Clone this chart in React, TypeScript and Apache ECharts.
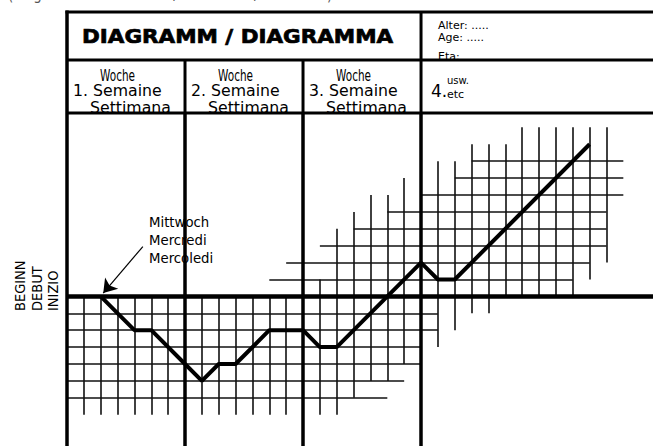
import React, { useEffect, useRef } from "react";
import * as echarts from "echarts";

const W = 653;
const H = 446;

// ---- data: weekly record, x = day since start of week 1, y = level vs. start ----
const lineDays = [2, 4, 5, 7, 8, 9, 10, 12, 14, 15, 16, 21, 22, 23, 31];
const lineValues = [0, -2, -2, -4, -5, -4, -4, -2, -2, -3, -3, 2, 1, 1, 9];

// horizontal grid rows (level, first day, last day)
const rowLevels = [-6, -5, -4, -3, -2, -1, 1, 2, 3, 4, 5, 6, 7, 8];
const rowStart = [0, 0, 0, 0, 0, 0, 12, 13, 15, 17, 19, 21, 23, 24];
const rowEnd = [19, 20, 21, 21, 22, 22, 30, 31, 32, 32, 32, 33, 33, 33];

// vertical day lines (day, lowest level, highest level)
const colDays = [1, 2, 3, 4, 5, 6, 8, 9, 10, 11, 12, 13, 15, 16, 17, 18, 19, 20, 22, 23, 24, 25, 26, 27, 28, 29, 30, 31, 32];
const colBottom = [-7, -7, -7, -7, -7, -7, -7, -7, -7, -7, -7, -7, -7, -7, -6, -5, -5, -4, -3, -2, -1, -1, 0, 0, 0, 0, 0, 1, 2];
const colTop = [0, 0, 0, 0, 0, 0, 0, 0, 0, 0, 0, 0, 1, 4, 5, 6, 6, 7, 8, 8, 9, 9, 9, 10, 10, 10, 10, 10, 10];

// week boundaries (days)
const weekDays = [0, 7, 14, 21];
const weekNumbers = ["1.", "2.", "3."];

// annotation arrow (data coords)
const arrowFrom = [4.5, 2.95];
const arrowTo = [2.15, 0.2];

// texts
const titleText = "DIAGRAMM / DIAGRAMMA";
const infoLines = ["Alter: .....", "Age: .....", "Eta:"];
const startLabels = ["BEGINN", "DEBUT", "INIZIO"];
const dayLabel = ["Mittwoch", "Mercredi", "Mercoledi"];
const captionText = "(Originalversion deutsch/französisch/italienisch)";

// ---- layout ----
const PLOT_LEFT = 67;
const PLOT_TOP = 113;
const X_MAX = 34.76;
const Y_MIN = -8.85;
const Y_MAX = 10.85;
const DAY_PX = (W - PLOT_LEFT) / X_MAX;
const FONT = '"DejaVu Sans", sans-serif';

function txt(text: string, x: number, y: number, size: number, opts: any = {}) {
  return {
    type: "text",
    x,
    y,
    scaleX: opts.scaleX ?? 1,
    rotation: opts.rotation ?? 0,
    z: opts.z ?? 20,
    style: {
      text,
      fill: opts.fill ?? "#000",
      stroke: opts.stroke ? "#000" : undefined,
      lineWidth: opts.stroke ?? 0,
      fontSize: size,
      fontFamily: FONT,
      fontWeight: opts.bold ? "bold" : "normal",
      align: opts.align ?? "left",
      textAlign: opts.align ?? "left",
      verticalAlign: "middle",
      textVerticalAlign: "middle",
    },
  };
}

function hline(x1: number, x2: number, y: number, w: number) {
  return { type: "line", z: 30, shape: { x1, y1: y, x2, y2: y }, style: { stroke: "#000", lineWidth: w } };
}
function vline(x: number, y1: number, y2: number, w: number) {
  return { type: "line", z: 30, shape: { x1: x, y1, x2: x, y2 }, style: { stroke: "#000", lineWidth: w } };
}

export default function App() {
  const ref = useRef<HTMLDivElement>(null);

  useEffect(() => {
    if (!ref.current) return;
    const chart = echarts.init(ref.current, undefined, { renderer: "svg", width: W, height: H });

    const graphics: any[] = [];
    // caption (cut off at top edge as in the scan)
    graphics.push(txt(captionText, 8, -5, 15, { fill: "#555", scaleX: 0.9 }));
    // title
    graphics.push(txt(titleText, 82, 36, 19, { bold: true, scaleX: 1.13, stroke: 0.7 }));
    // info
    const infoY = [25, 37, 56];
    infoLines.forEach((t, i) => graphics.push(txt(t, 438, infoY[i], 11)));
    // week headers
    weekNumbers.forEach((n, i) => {
      const L = PLOT_LEFT + weekDays[i] * DAY_PX;
      graphics.push(txt("Woche", L + 33, 76, 15, { scaleX: 0.7 }));
      graphics.push(txt(n + " Semaine", L + 6, 91, 15, { scaleX: 1.05 }));
      graphics.push(txt("Settimana", L + 23, 108.5, 15, { scaleX: 1.05 }));
    });
    const L4 = PLOT_LEFT + weekDays[3] * DAY_PX;
    graphics.push(txt("4.", L4 + 10, 91, 17));
    graphics.push(txt("usw.", L4 + 26, 80, 10));
    graphics.push(txt("etc", L4 + 26, 94, 11));
    // start labels (rotated)
    const startX = [20, 37, 53];
    startLabels.forEach((t, i) => graphics.push(txt(t, startX[i], 311, 14, { rotation: Math.PI / 2, scaleX: 0.93 })));
    // weekday annotation (drawn under the grid lines)
    const dayY = [222, 240, 258];
    dayLabel.forEach((t, i) => graphics.push(txt(t, 149, dayY[i], 14, { scaleX: 0.95, z: 1 })));

    // header frame
    graphics.push(hline(65.5, W, 12, 3));
    graphics.push(hline(66, W, 60, 3));
    graphics.push(hline(66, W, PLOT_TOP, 3));
    graphics.push(vline(PLOT_LEFT, 10.5, PLOT_TOP, 3.5));
    weekDays.slice(1).forEach((d) => {
      const x = PLOT_LEFT + d * DAY_PX;
      graphics.push(vline(x, d === 21 ? 12 : 60, PLOT_TOP, 3));
    });

    const thin = { color: "#111", width: 1.6, opacity: 1 };

    chart.setOption({
      animation: false,
      backgroundColor: "#fff",
      grid: { left: PLOT_LEFT, right: 0, top: PLOT_TOP, bottom: 0, outerBoundsMode: "none" },
      xAxis: { type: "value", min: 0, max: X_MAX, show: false },
      yAxis: { type: "value", min: Y_MIN, max: Y_MAX, show: false },
      graphic: { elements: graphics },
      series: [
        {
          type: "lines",
          coordinateSystem: "cartesian2d",
          silent: true,
          z: 2,
          lineStyle: thin,
          data: rowLevels.map((lv, i) => ({ coords: [[rowStart[i], lv], [rowEnd[i], lv]] })),
        },
        {
          type: "lines",
          coordinateSystem: "cartesian2d",
          silent: true,
          z: 2,
          lineStyle: thin,
          data: colDays.map((d, i) => ({ coords: [[d, colBottom[i]], [d, colTop[i]]] })),
        },
        {
          type: "lines",
          coordinateSystem: "cartesian2d",
          silent: true,
          z: 3,
          lineStyle: { color: "#000", width: 3.5, opacity: 1 },
          data: weekDays.map((d) => ({ coords: [[d, Y_MAX], [d, Y_MIN]] })),
        },
        {
          type: "lines",
          coordinateSystem: "cartesian2d",
          silent: true,
          z: 3,
          lineStyle: { color: "#000", width: 4.5, opacity: 1 },
          data: [{ coords: [[0, 0], [X_MAX, 0]] }],
        },
        {
          type: "lines",
          coordinateSystem: "cartesian2d",
          silent: true,
          z: 4,
          symbol: ["none", "arrow"],
          symbolSize: 13,
          lineStyle: { color: "#000", width: 1.2, opacity: 1 },
          data: [{ coords: [arrowFrom, arrowTo] }],
        },
        {
          type: "line",
          silent: true,
          z: 5,
          symbol: "none",
          showSymbol: false,
          lineStyle: { color: "#000", width: 4 },
          data: lineDays.map((d, i) => [d, lineValues[i]]),
        },
      ],
    });
    return () => chart.dispose();
  }, []);

  return <div ref={ref} style={{ position: "fixed", left: 0, top: 0, width: W, height: H, background: "#fff" }} />;
}
